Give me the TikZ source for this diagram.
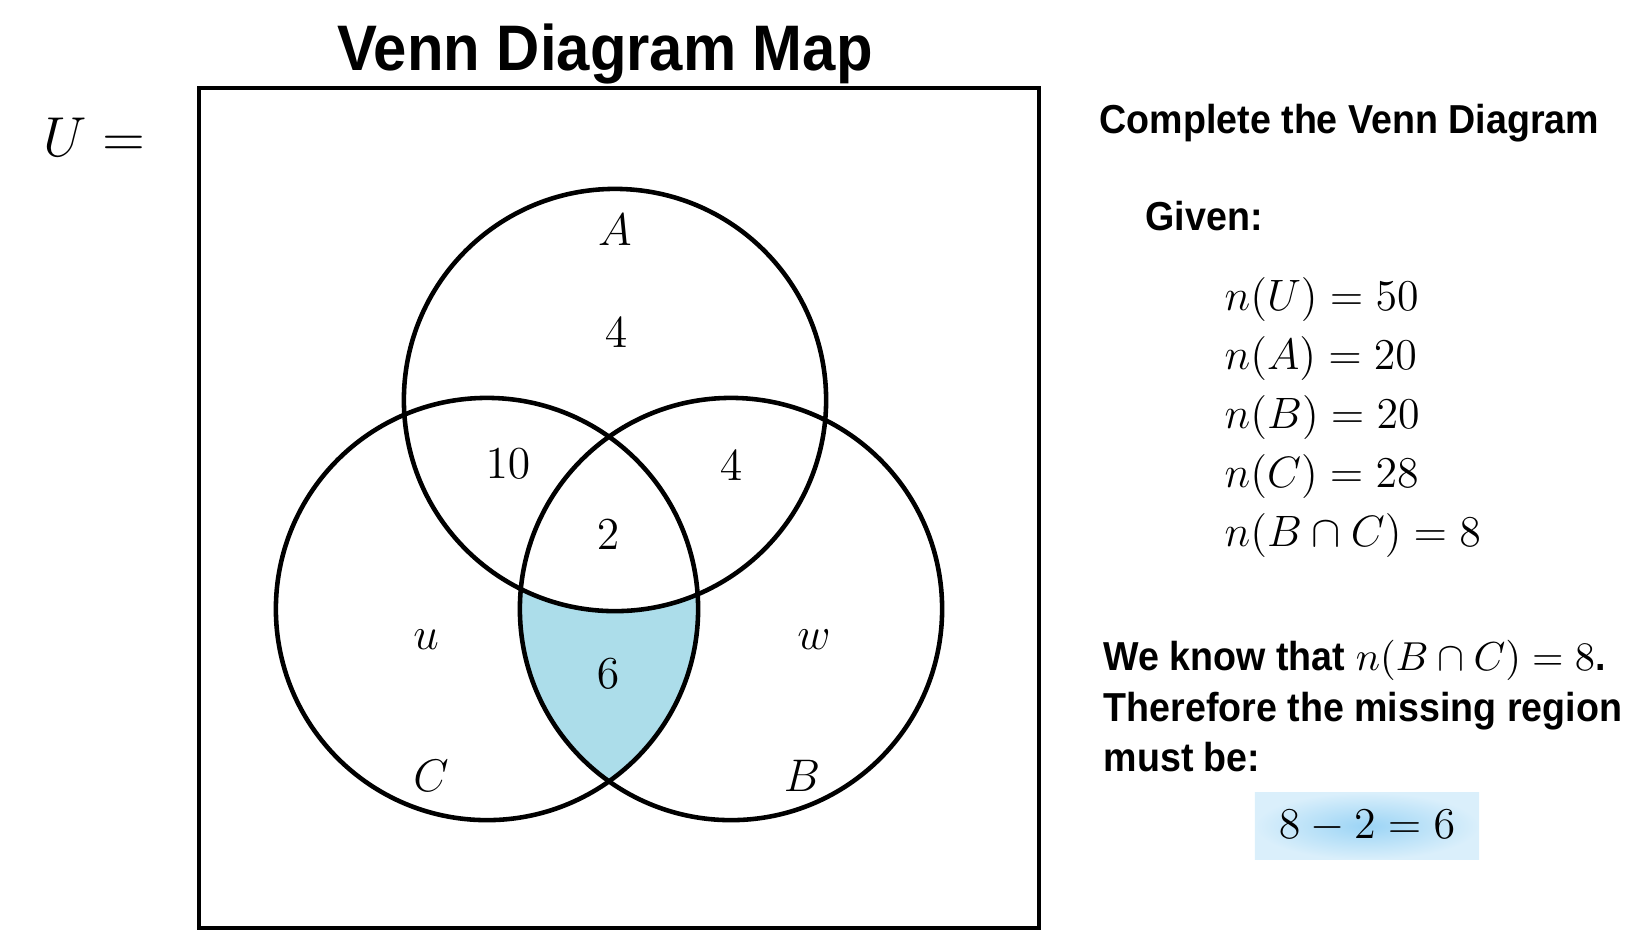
\RequirePackage{fix-cm}
\documentclass[tikz,border=0pt]{standalone}
\usepackage{amsmath,amssymb}
\usepackage{fontspec}
\usepackage{tikz}
\usetikzlibrary{positioning}
\newfontfamily\slidefont[FakeStretch=0.93]{Liberation Sans}
\definecolor{regionblue}{RGB}{172,221,234}
\definecolor{boxinner}{RGB}{155,212,245}
\definecolor{boxouter}{RGB}{218,239,251}

\begin{document}
\begin{tikzpicture}[x=0.01cm,y=-0.01cm,
  setline/.style={line width=1.3pt},
  venntxt/.style={font=\fontsize{13}{15}\selectfont},
  slidetxt/.style={anchor=base west,inner sep=0pt,font=\slidefont\bfseries\fontsize{11.5}{14}\selectfont},
  mathrow/.style={anchor=west,inner sep=0pt,font=\fontsize{12.5}{15}\selectfont},
  resultbox/.style={shade,inner color=boxinner,outer color=boxouter,minimum width=2.24cm,minimum height=0.67cm,font=\fontsize{12.5}{15}\selectfont}]
\useasboundingbox (0,0) rectangle (1652,950);
\def\rad{2.11cm}
% title and universe
\node[anchor=base,font=\slidefont\bfseries\fontsize{18.3}{22}\selectfont] (title) at (605,70) {Venn Diagram Map};
\node[font=\fontsize{16}{19}\selectfont] (ulabel) at (94,137) {$U =$};
\draw[line width=1.4pt] (199,88) rectangle (1039,928);
% circles
\coordinate (cA) at (615,400);
\coordinate (cC) at (487,609);
\coordinate (cB) at (731,609);
\begin{scope}
  \clip (cC) circle (\rad);
  \clip (cB) circle (\rad);
  \fill[regionblue] (cC) circle (\rad);
  \fill[white] (cA) circle (\rad);
\end{scope}
\foreach \c in {cA,cC,cB} \draw[setline] (\c) circle (\rad);
% region labels
\node[venntxt] (setA) at (615,230) {$A$};
\node[venntxt] (onlyA) at (616,333) {$4$};
\node[venntxt] (AC) at (508,464) {$10$};
\node[venntxt] (AB) at (731,466) {$4$};
\node[venntxt] (ABC) at (608,535) {$2$};
\node[venntxt] (onlyC) at (426,640) {$u$};
\node[venntxt] (BC) at (608,674) {$6$};
\node[venntxt] (onlyB) at (814,640) {$w$};
\node[venntxt] (setC) at (431,776) {$C$};
\node[venntxt] (setB) at (802,776) {$B$};
% right panel
\node[slidetxt] (task) at (1099,133) {Complete the Venn Diagram};
\node[slidetxt] (given) at (1145,230) {Given:};
\node[mathrow] (nU) at (1224,299) {$n(U) = 50$};
\node[mathrow] (nA) at (1224,358) {$n(A) = 20$};
\node[mathrow] (nB) at (1224,417) {$n(B) = 20$};
\node[mathrow] (nC) at (1224,476) {$n(C) = 28$};
\node[mathrow] (nBC) at (1224,535) {$n(B \cap C) = 8$};
\node[slidetxt] (know) at (1103,670) {We know that $n(B \cap C) = 8$.};
\node[slidetxt] (therefore) at (1103,721) {Therefore the missing region};
\node[slidetxt] (mustbe) at (1103,771) {must be:};
\node[resultbox] (result) at (1367,826) {$8 - 2 = 6$};
\end{tikzpicture}
\end{document}
